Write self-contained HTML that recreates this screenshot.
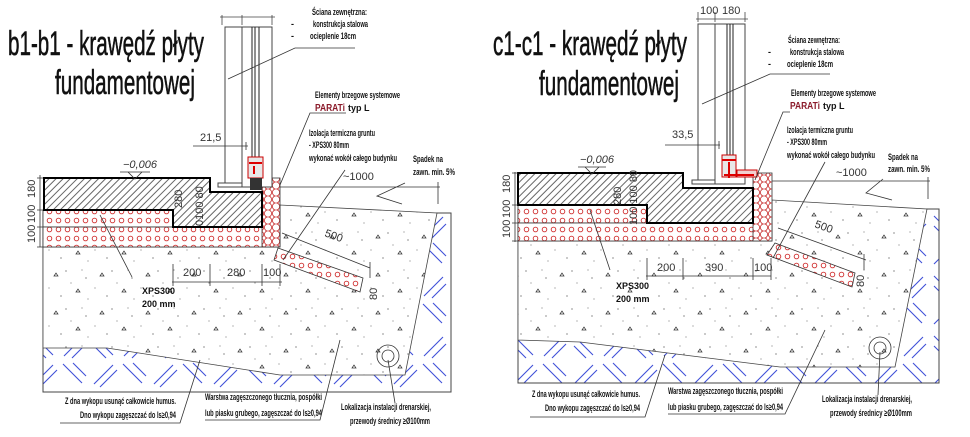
<!DOCTYPE html>
<html><head><meta charset="utf-8"><style>
html,body{margin:0;padding:0;background:#fff;width:970px;height:437px;overflow:hidden}
svg{display:block}
text{font-family:"Liberation Sans",sans-serif;fill:#111}
.s{font-size:9px;font-weight:bold}
.d{font-size:11px;fill:#333}
.t{font-size:34px;stroke:#111;stroke-width:0.6}
</style></head><body>
<svg width="970" height="437" viewBox="0 0 970 437" xmlns="http://www.w3.org/2000/svg">
<defs>
<pattern id="hat" width="5" height="5" patternUnits="userSpaceOnUse" patternTransform="rotate(45)">
<rect width="5" height="5" fill="#fff"/><line x1="1" y1="0" x2="1" y2="5" stroke="#555" stroke-width="0.9"/></pattern>
<pattern id="xps" width="9" height="9" patternUnits="userSpaceOnUse">
<rect width="9" height="9" fill="#fff"/><circle cx="4.5" cy="4.5" r="2.3" fill="none" stroke="#d03030" stroke-width="0.9"/></pattern>
<pattern id="hex" width="8" height="7" patternUnits="userSpaceOnUse">
<rect width="8" height="7" fill="#fff"/><circle cx="4" cy="3.5" r="3.6" fill="none" stroke="#c83030" stroke-width="0.8"/></pattern>
<pattern id="grv" width="46" height="38" patternUnits="userSpaceOnUse">
<rect width="46" height="38" fill="#fff"/>
<path d="M8 10l2-3 2 3z M30 26l2-3 2 3z" fill="none" stroke="#333" stroke-width="0.7"/>
<circle cx="20" cy="5" r="0.6" fill="#444"/><circle cx="40" cy="12" r="0.6" fill="#444"/><circle cx="15" cy="30" r="0.6" fill="#444"/><circle cx="3" cy="22" r="0.5" fill="#444"/><circle cx="25" cy="17" r="0.5" fill="#444"/><circle cx="42" cy="33" r="0.5" fill="#444"/><circle cx="36" cy="4" r="0.5" fill="#444"/></pattern>
<pattern id="soil" width="60" height="60" patternUnits="userSpaceOnUse">
<rect width="60" height="60" fill="#fff"/>
<path d="M3 4L22 23 M13 3L26 16 M34 24L53 5 M40 27L57 10 M4 56L23 37 M12 58L26 44 M34 36L53 55 M34 46L46 58" stroke="#4050d8" stroke-width="1.1"/></pattern>
</defs>

<!-- ============ LEFT PANEL ============ -->
<text class="t" x="8" y="55" textLength="196" lengthAdjust="spacingAndGlyphs">b1-b1 - krawędź płyty</text>
<text class="t" x="55" y="94" textLength="140" lengthAdjust="spacingAndGlyphs">fundamentowej</text>
<rect x="43" y="213" width="408" height="179" fill="url(#soil)" stroke="#444"/>
<polygon points="43,247 280,247 280,205 437,213 405,375 280,375 107,348 43,348" fill="url(#grv)" stroke="#444" stroke-width="0.8"/>
<polygon points="274,260 278,248 363,278 360,292" fill="url(#xps)" stroke="#333" stroke-width="0.8"/>
<rect x="43" y="210" width="130" height="17" fill="url(#xps)" stroke="#333" stroke-width="0.8"/>
<rect x="43" y="227" width="237" height="20" fill="url(#xps)" stroke="#333" stroke-width="0.8"/>
<rect x="262" y="178" width="18" height="69" fill="url(#hex)" stroke="#333" stroke-width="0.8"/>
<polygon points="44,178 210,178 210,192 262,192 262,227 173,227 173,210 44,210" fill="url(#hat)" stroke="#000" stroke-width="2"/>
<rect x="225" y="27" width="47" height="160" fill="#fff" stroke="#444"/>
<line x1="242" y1="27" x2="242" y2="187" stroke="#444"/>
<line x1="252" y1="27" x2="252" y2="160" stroke="#222"/><line x1="255" y1="27" x2="255" y2="160" stroke="#222"/><line x1="259" y1="27" x2="259" y2="160" stroke="#222"/>
<rect x="218" y="183" width="24" height="4" fill="#fff" stroke="#444"/>
<rect x="248" y="157" width="15" height="21" fill="#e8e8e8" stroke="#c00"/>
<rect x="250" y="178" width="12" height="12" fill="#333"/>
<path d="M249 163h13M254 166v8" stroke="#d00" stroke-width="2"/>
<path d="M222 15v10M242 15v10M272 15v10M220 17h55" stroke="#444" stroke-width="0.8"/>
<text class="s" x="312" y="15" textLength="55" lengthAdjust="spacingAndGlyphs">Ściana zewnętrzna:</text>
<text class="s" x="291" y="27">-</text><text class="s" x="313" y="27" textLength="55" lengthAdjust="spacingAndGlyphs">konstrukcja stalowa</text>
<text class="s" x="291" y="39">-</text><text class="s" x="310" y="39" textLength="46" lengthAdjust="spacingAndGlyphs">ocieplenie 18cm</text>
<path d="M228 79L295 48H355" fill="none" stroke="#333" stroke-width="0.8"/>
<text class="s" x="315" y="98" textLength="85" lengthAdjust="spacingAndGlyphs">Elementy brzegowe systemowe</text>
<text x="315" y="111" style="font-size:10px;font-weight:bold;fill:#8b1a2a" textLength="30" lengthAdjust="spacingAndGlyphs">PARATi</text>
<text class="s" x="348" y="111">typ L</text>
<path d="M346 113H310L280 185" fill="none" stroke="#333" stroke-width="0.8"/>
<text class="s" x="309" y="136" textLength="66" lengthAdjust="spacingAndGlyphs">Izolacja termiczna gruntu</text>
<text class="s" x="309" y="148" textLength="40" lengthAdjust="spacingAndGlyphs">- XPS300 80mm</text>
<text class="s" x="309" y="161" textLength="88" lengthAdjust="spacingAndGlyphs">wykonać wokół całego budynku</text>
<path d="M345 170L283 260" stroke="#333" stroke-width="0.8"/>
<text class="d" x="343" y="180">~1000</text>
<text class="s" x="413" y="162" textLength="30" lengthAdjust="spacingAndGlyphs">Spadek na</text>
<text class="s" x="413" y="175" textLength="42" lengthAdjust="spacingAndGlyphs">zawn. min. 5%</text>
<path d="M280 187H440M438 182v22M405 183L377 196L402 204" fill="none" stroke="#333" stroke-width="0.8"/>
<text class="d" x="123" y="168" font-style="italic">−0,006</text>
<path d="M120 172h30M128 172l7 7 7-7" fill="none" stroke="#333" stroke-width="0.8"/>
<text class="d" x="200" y="141">21,5</text>
<path d="M193 146h55M246 142v8" stroke="#333" stroke-width="0.8"/>
<path d="M40 175v72M37 178h6M37 210h6M37 227h6M37 247h6" stroke="#333" stroke-width="0.8"/>
<text class="d" transform="translate(35,198) rotate(-90)">180</text>
<text class="d" transform="translate(35,223) rotate(-90)">100</text>
<text class="d" transform="translate(35,243) rotate(-90)">100</text>
<text class="d" transform="translate(182,208) rotate(-90)" font-size="10">280</text>
<text class="d" transform="translate(203,226) rotate(-90)" font-size="10">0100 80</text>
<path d="M172 282h110M173 264v22M210 264v22M262 264v22M280 264v22" stroke="#333" stroke-width="0.8"/>
<text class="d" x="183" y="276">200</text><text class="d" x="227" y="276">280</text><text class="d" x="263" y="276">100</text>
<path d="M282 233L370 268M370 262v16" stroke="#333" stroke-width="0.8"/>
<text class="d" transform="translate(324,236) rotate(20)">500</text>
<text class="d" transform="translate(377,300) rotate(-90)">80</text>
<path d="M100 215L132 277" stroke="#333" stroke-width="0.8"/>
<text class="s" x="142" y="294">XPS300</text><text class="s" x="142" y="307">200 mm</text>
<circle cx="388" cy="356" r="11" fill="none" stroke="#333" stroke-width="0.8"/><circle cx="388" cy="356" r="6" fill="none" stroke="#333" stroke-width="0.8"/>
<text class="s" x="65" y="404" textLength="111" lengthAdjust="spacingAndGlyphs">Z dna wykopu usunąć całkowicie humus.</text>
<text class="s" x="80" y="418" textLength="96" lengthAdjust="spacingAndGlyphs">Dno wykopu zagęszczać do Is≥0,94</text>
<path d="M60 423H180L200 360" fill="none" stroke="#333" stroke-width="0.8"/>
<text class="s" x="205" y="400" textLength="117" lengthAdjust="spacingAndGlyphs">Warstwa zagęszczonego tłucznia, pospółki</text>
<text class="s" x="205" y="416" textLength="117" lengthAdjust="spacingAndGlyphs">lub piasku grubego, zagęszczać do Is≥0,94</text>
<path d="M205 420H320L340 340" fill="none" stroke="#333" stroke-width="0.8"/>
<text class="s" x="341" y="410" textLength="90" lengthAdjust="spacingAndGlyphs">Lokalizacja instalacji drenarskiej,</text>
<text class="s" x="350" y="424" textLength="80" lengthAdjust="spacingAndGlyphs">przewody średnicy ≥Ø100mm</text>
<path d="M388 360L395 403" stroke="#333" stroke-width="0.8"/>

<!-- ============ RIGHT PANEL ============ -->
<text class="t" x="493" y="55" textLength="194" lengthAdjust="spacingAndGlyphs">c1-c1 - krawędź płyty</text>
<text class="t" x="539" y="95" textLength="140" lengthAdjust="spacingAndGlyphs">fundamentowej</text>
<rect x="518" y="209" width="421" height="174" fill="url(#soil)" stroke="#444"/>
<polygon points="518,241 772,241 772,200 927,209 895,367 780,367 580,342 518,340" fill="url(#grv)" stroke="#444" stroke-width="0.8"/>
<polygon points="767,255 775,243 855,273 852,287" fill="url(#xps)" stroke="#333" stroke-width="0.8"/>
<rect x="518" y="205" width="129" height="18" fill="url(#xps)" stroke="#333" stroke-width="0.8"/>
<rect x="518" y="223" width="254" height="18" fill="url(#xps)" stroke="#333" stroke-width="0.8"/>
<rect x="753" y="173" width="19" height="68" fill="url(#hex)" stroke="#333" stroke-width="0.8"/>
<polygon points="518,173 683,173 683,188 753,188 753,223 647,223 647,205 518,205" fill="url(#hat)" stroke="#000" stroke-width="2"/>
<rect x="698" y="24" width="47" height="160" fill="#fff" stroke="#444"/>
<line x1="715" y1="24" x2="715" y2="184" stroke="#444"/>
<line x1="727" y1="24" x2="727" y2="155" stroke="#222"/><line x1="730" y1="24" x2="730" y2="155" stroke="#222"/><line x1="733" y1="24" x2="733" y2="155" stroke="#222"/>
<rect x="692" y="180" width="23" height="4" fill="#fff" stroke="#444"/>
<rect x="722" y="155" width="14" height="22" fill="#e8e8e8" stroke="#c00"/>
<rect x="737" y="170" width="20" height="7" fill="#f2d0d0" stroke="#c00"/>
<path d="M722 160h14M729 162v16M724 175h30" stroke="#d00" stroke-width="2"/>
<path d="M698 12v10M715 12v10M745 12v10M696 19h52" stroke="#444" stroke-width="0.8"/>
<text class="d" x="700" y="14" font-size="10">100</text><text class="d" x="722" y="14" font-size="10">180</text>
<text class="s" x="788" y="43" textLength="52" lengthAdjust="spacingAndGlyphs">Ściana zewnętrzna:</text>
<text class="s" x="768" y="55">-</text><text class="s" x="790" y="55" textLength="54" lengthAdjust="spacingAndGlyphs">konstrukcja stalowa</text>
<text class="s" x="768" y="67">-</text><text class="s" x="787" y="67" textLength="46" lengthAdjust="spacingAndGlyphs">ocieplenie 18cm</text>
<path d="M702 104L770 74H830" fill="none" stroke="#333" stroke-width="0.8"/>
<text class="s" x="791" y="96" textLength="85" lengthAdjust="spacingAndGlyphs">Elementy brzegowe systemowe</text>
<text x="790" y="109" style="font-size:10px;font-weight:bold;fill:#8b1a2a" textLength="30" lengthAdjust="spacingAndGlyphs">PARATi</text>
<text class="s" x="823" y="109">typ L</text>
<path d="M790 112H783L755 180" fill="none" stroke="#333" stroke-width="0.8"/>
<text class="s" x="787" y="133" textLength="66" lengthAdjust="spacingAndGlyphs">Izolacja termiczna gruntu</text>
<text class="s" x="787" y="145" textLength="40" lengthAdjust="spacingAndGlyphs">- XPS300 80mm</text>
<text class="s" x="787" y="158" textLength="88" lengthAdjust="spacingAndGlyphs">wykonać wokół całego budynku</text>
<path d="M825 162L773 258" stroke="#333" stroke-width="0.8"/>
<text class="d" x="836" y="176">~1000</text>
<text class="s" x="888" y="160" textLength="30" lengthAdjust="spacingAndGlyphs">Spadek na</text>
<text class="s" x="888" y="172" textLength="42" lengthAdjust="spacingAndGlyphs">zawn. min. 5%</text>
<path d="M772 181H930M928 177v22M883 179L866 193L892 200" fill="none" stroke="#333" stroke-width="0.8"/>
<text class="d" x="580" y="163" font-style="italic">−0,006</text>
<path d="M578 167h28M585 167l7 7 7-7" fill="none" stroke="#333" stroke-width="0.8"/>
<text class="d" x="672" y="138">33,5</text>
<path d="M665 145h55M719 141v8" stroke="#333" stroke-width="0.8"/>
<path d="M515 172v70M512 173h6M512 205h6M512 223h6M512 241h6" stroke="#333" stroke-width="0.8"/>
<text class="d" transform="translate(510,193) rotate(-90)">180</text>
<text class="d" transform="translate(510,218) rotate(-90)">100</text>
<text class="d" transform="translate(510,238) rotate(-90)">100</text>
<text class="d" transform="translate(621,205) rotate(-90)" font-size="10">280</text>
<text class="d" transform="translate(637,225) rotate(-90)" font-size="10">100 100 80</text>
<path d="M646 276h125M647 258v22M683 258v22M753 258v22M771 258v22" stroke="#333" stroke-width="0.8"/>
<text class="d" x="657" y="271">200</text><text class="d" x="705" y="271">390</text><text class="d" x="754" y="271">100</text>
<path d="M778 228L866 260M864 254v16" stroke="#333" stroke-width="0.8"/>
<text class="d" transform="translate(814,227) rotate(20)">500</text>
<text class="d" transform="translate(864,287) rotate(-90)">80</text>
<path d="M590 210L610 270" stroke="#333" stroke-width="0.8"/>
<text class="s" x="616" y="289">XPS300</text><text class="s" x="616" y="302">200 mm</text>
<circle cx="880" cy="348" r="11" fill="none" stroke="#333" stroke-width="0.8"/><circle cx="880" cy="348" r="6" fill="none" stroke="#333" stroke-width="0.8"/>
<text class="s" x="532" y="397" textLength="108" lengthAdjust="spacingAndGlyphs">Z dna wykopu usunąć całkowicie humus.</text>
<text class="s" x="545" y="411" textLength="95" lengthAdjust="spacingAndGlyphs">Dno wykopu zagęszczać do Is≥0,94</text>
<path d="M530 417H645L665 355" fill="none" stroke="#333" stroke-width="0.8"/>
<text class="s" x="668" y="394" textLength="115" lengthAdjust="spacingAndGlyphs">Warstwa zagęszczonego tłucznia, pospółki</text>
<text class="s" x="668" y="410" textLength="115" lengthAdjust="spacingAndGlyphs">lub piasku grubego, zagęszczać do Is≥0,94</text>
<path d="M668 414H785L825 330" fill="none" stroke="#333" stroke-width="0.8"/>
<text class="s" x="822" y="402" textLength="90" lengthAdjust="spacingAndGlyphs">Lokalizacja instalacji drenarskiej,</text>
<text class="s" x="830" y="416" textLength="82" lengthAdjust="spacingAndGlyphs">przewody średnicy ≥Ø100mm</text>
<path d="M880 352L878 395" stroke="#333" stroke-width="0.8"/>
</svg>
</body></html>
